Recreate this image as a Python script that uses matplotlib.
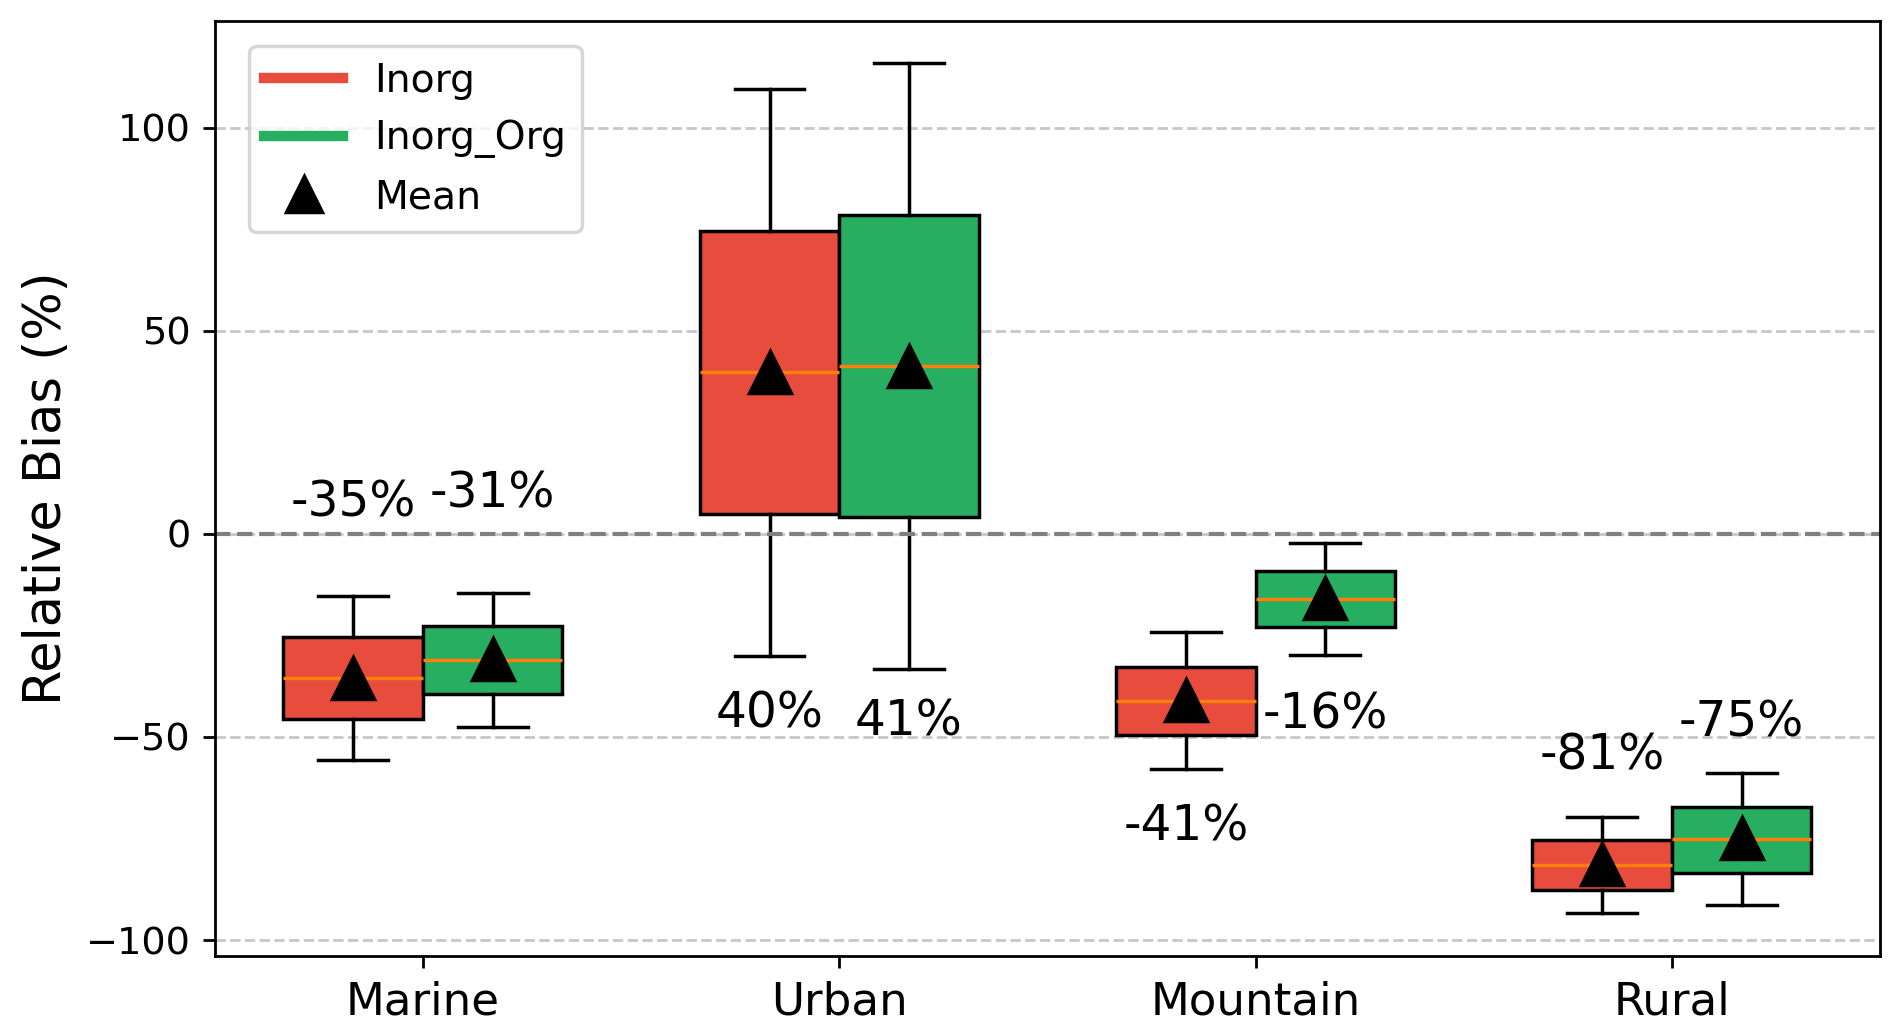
import matplotlib
matplotlib.use("Agg")
import matplotlib.pyplot as plt
from matplotlib.lines import Line2D
import numpy as np

# Summary stats (percent)
sites = ["Marine", "Urban", "Mountain", "Rural"]

inorg_whislo = [-55.7, -30.0, -57.9, -93.4]
inorg_q1 = [-45.5, 4.9, -49.5, -87.6]
inorg_med = [-35.5, 39.8, -41.2, -81.5]
inorg_q3 = [-25.4, 74.5, -32.8, -75.3]
inorg_whishi = [-15.4, 109.5, -24.2, -69.7]
inorg_mean = [-35.4, 39.9, -40.9, -81.3]

org_whislo = [-47.5, -33.3, -29.7, -91.4]
org_q1 = [-39.5, 4.1, -23.0, -83.4]
org_med = [-31.0, 41.4, -16.0, -75.2]
org_q3 = [-22.8, 78.6, -9.2, -67.2]
org_whishi = [-14.6, 115.9, -2.3, -58.9]
org_mean = [-30.8, 41.3, -15.8, -75.0]

# where the mean labels sit (baseline, in data units)
inorg_label_y = [4.4, -47.7, -75.5, -57.9]
org_label_y = [6.5, -49.6, -47.8, -50.0]

red = "#E74C3C"
green = "#27AE60"


def make_stats(lo, q1, med, q3, hi, mean):
    return [dict(whislo=a, q1=b, med=c, q3=d, whishi=e, mean=f, fliers=[])
            for a, b, c, d, e, f in zip(lo, q1, med, q3, hi, mean)]


stats_inorg = make_stats(inorg_whislo, inorg_q1, inorg_med, inorg_q3, inorg_whishi, inorg_mean)
stats_org = make_stats(org_whislo, org_q1, org_med, org_q3, org_whishi, org_mean)

fig, ax = plt.subplots(figsize=(7.568, 4.132), dpi=250)
fig.subplots_adjust(left=0.1135, right=0.9937, top=0.980, bottom=0.0748)

width = 0.335
x = np.arange(len(sites))
meanprops = dict(marker="^", markerfacecolor="black", markeredgecolor="black", markersize=12)

for stats, pos, col in [(stats_inorg, x - width / 2, red), (stats_org, x + width / 2, green)]:
    bp = ax.bxp(stats, positions=pos, widths=width, patch_artist=True,
                showmeans=True, meanprops=meanprops, manage_ticks=False)
    for box in bp["boxes"]:
        box.set_facecolor(col)
        box.set_edgecolor("black")

# mean labels
for i in range(len(sites)):
    ax.text(x[i] - width / 2, inorg_label_y[i], f"{inorg_mean[i]:.0f}%",
            ha="center", va="baseline", fontsize=14)
    ax.text(x[i] + width / 2, org_label_y[i], f"{org_mean[i]:.0f}%",
            ha="center", va="baseline", fontsize=14)

ax.axhline(0, color="gray", linestyle="--", linewidth=1.2)
ax.yaxis.grid(True, linestyle="--", alpha=0.7)
ax.set_axisbelow(True)

ax.set_xlim(-0.5, len(sites) - 0.5)
ax.set_xticks(x)
ax.set_xticklabels(sites, fontsize=13)
ax.tick_params(axis="y", labelsize=11)
ax.set_ylabel("Relative Bias (%)", fontsize=14.7)

handles = [Line2D([0], [0], color=red, lw=3, label="Inorg"),
           Line2D([0], [0], color=green, lw=3, label="Inorg_Org"),
           Line2D([0], [0], marker="^", color="black", linestyle="None",
                  markersize=10.5, label="Mean")]
ax.legend(handles=handles, loc="upper left", bbox_to_anchor=(0.0204, 0.9728),
          borderaxespad=0, fontsize=11.3)

plt.savefig("out.png", dpi=250)
